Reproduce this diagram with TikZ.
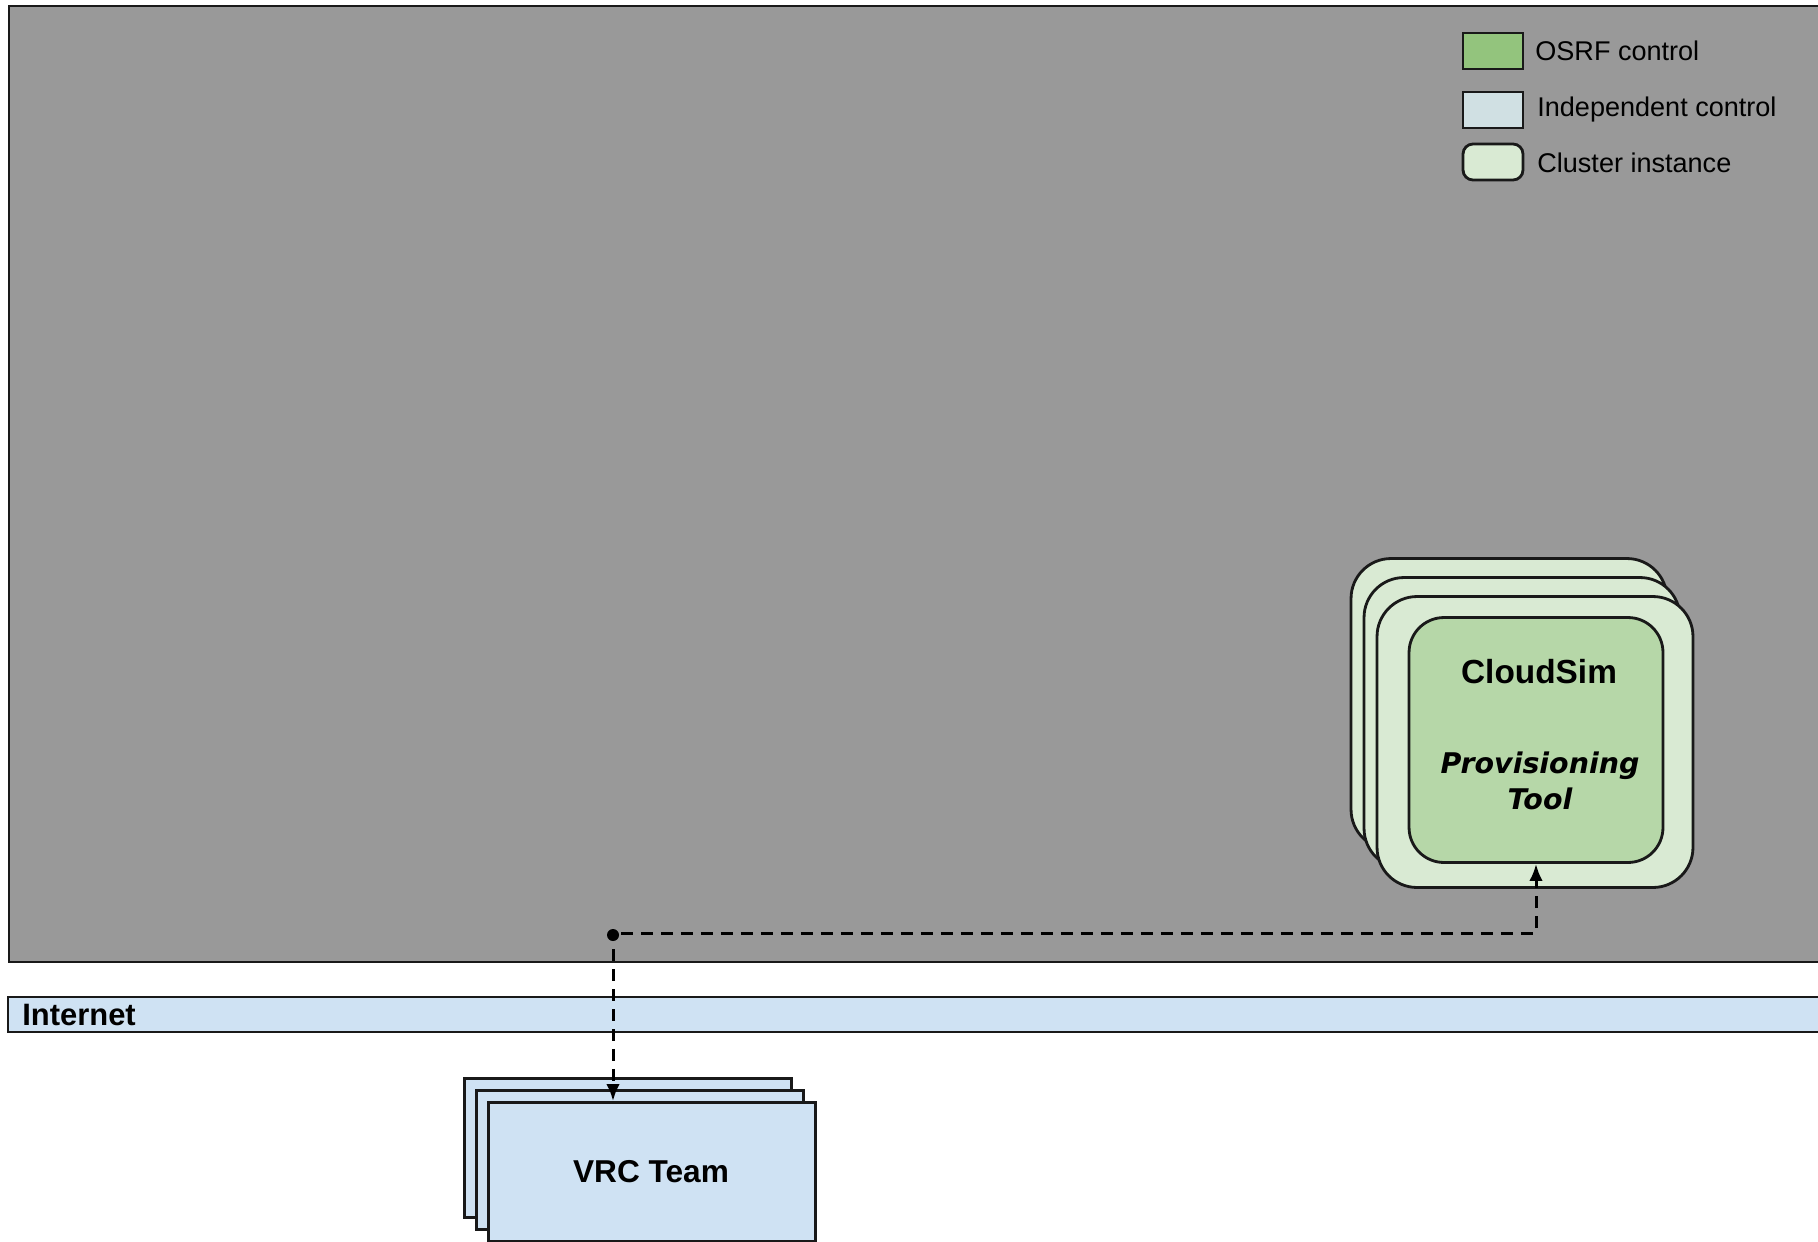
\documentclass[tikz,border=0pt]{standalone}
\usepackage{fontspec}
\setmainfont{Liberation Sans}
\newfontfamily\widefont{DejaVu Sans}
\usetikzlibrary{arrows.meta}
\definecolor{regiongray}{HTML}{999999}
\definecolor{osrfgreen}{HTML}{93C47D}
\definecolor{toolgreen}{HTML}{B6D7A8}
\definecolor{clustergreen}{HTML}{D9EAD3}
\definecolor{indepblue}{HTML}{D0E0E3}
\definecolor{netblue}{HTML}{CFE2F3}
\tikzset{
  boxline/.style={draw=black!90, line width=1.6pt},
  legendtext/.style={anchor=west, inner sep=0pt, font=\fontsize{15.4}{17}\selectfont},
  clusterlayer/.style={boxline, fill=clustergreen, rounded corners=0.8cm, minimum width=6.32cm, minimum height=5.82cm},
  teamlayer/.style={boxline, fill=netblue, minimum width=6.54cm, minimum height=2.78cm},
  dashlink/.style={line width=1.7pt, dash pattern=on 0.24cm off 0.16cm, -{Latex[length=0.34cm,width=0.27cm]}}
}
\begin{document}
\begin{tikzpicture}[x=0.02cm, y=-0.02cm] %pixel grid, y downwards
	\useasboundingbox (0,0) rectangle (1818,1241);
	\clip (0,0) rectangle (1818,1241);
	%Region and internet bar
	\draw[boxline, fill=regiongray] (9,6) rectangle (1850,962);
	\draw[boxline, fill=netblue] (8,997) rectangle (1850,1032);
	\node[anchor=west, inner sep=0pt, font=\bfseries\fontsize{17.6}{20}\selectfont] (internet) at (22,1015) {Internet};
	
	%Legend
	\node[boxline, fill=osrfgreen, minimum width=1.2cm, minimum height=0.72cm, inner sep=0pt] (keyosrf) at (1493,51) {};
	\node[boxline, fill=indepblue, minimum width=1.2cm, minimum height=0.72cm, inner sep=0pt] (keyindep) at (1493,110) {};
	\node[boxline, fill=clustergreen, rounded corners=0.2cm, minimum width=1.2cm, minimum height=0.72cm, inner sep=0pt] (keycluster) at (1493,162) {};
	\node[legendtext] (osrftext) at (1535,51) {OSRF control};
	\node[legendtext] (indeptext) at (1537,110) {Independent control};
	\node[legendtext] (clustertext) at (1537,163) {Cluster instance};
	
	%Cluster instances
	\node[clusterlayer] (clusterc) at (1509,704) {};
	\node[clusterlayer] (clusterb) at (1522,723) {};
	\node[clusterlayer] (clustera) at (1535,742) {};
	\node[boxline, fill=toolgreen, rounded corners=0.7cm, minimum width=5.08cm, minimum height=4.9cm] (cloudsim) at (1536,740) {};
	\node[font=\bfseries\fontsize{19}{22}\selectfont] (cloudsimtext) at (1539,672) {CloudSim};
	\node[align=center, font=\widefont\bfseries\itshape\fontsize{16.2}{20.5}\selectfont] (tooltext) at (1540,781) {Provisioning\\Tool};
	
	%VRC teams
	\node[teamlayer] (vrcc) at (628,1148) {};
	\node[teamlayer] (vrcb) at (640,1160) {};
	\node[teamlayer] (vrc) at (652,1172) {};
	\node[font=\bfseries\fontsize{18}{20}\selectfont] (vrctext) at (651,1172) {VRC Team};
	
	%Links
	\fill (613,935) circle (0.12cm) coordinate (hub);
	\draw[dashlink] (hub) ++(8,-2) -| (cloudsim.south);
	\draw[dashlink] (hub) ++(0,14) -- (hub |- vrc.north);
\end{tikzpicture}
\end{document}
